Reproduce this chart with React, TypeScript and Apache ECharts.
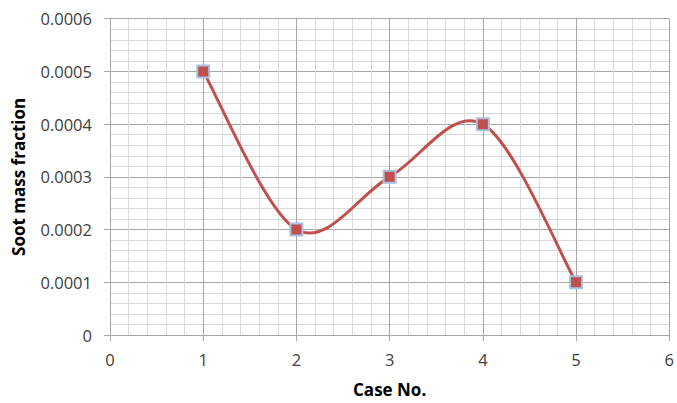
import React, { useEffect, useRef } from "react";
import * as echarts from "echarts";

// Soot mass fraction for each simulated case
const caseNumbers = [1, 2, 3, 4, 5];
const sootMassFraction = [0.0005, 0.0002, 0.0003, 0.0004, 0.0001];

const xTicks = { min: 0, max: 6, interval: 1 };
const yTicks = { min: 0, max: 0.0006, interval: 0.0001 };

const FONT = "'Open Sans', 'Liberation Sans', sans-serif";
const MAJOR = "#a6a6a6";
const MINOR = "#d9d9d9";
const LINE_RED = "#c0504d";

// Builds a Catmull-Rom style cubic Bezier path through the pixel points
function smoothPath(pts: number[][]): string {
  const n = pts.length;
  if (n === 0) return "";
  const p = (i: number) => pts[Math.max(0, Math.min(n - 1, i))];
  let d = `M${pts[0][0]},${pts[0][1]}`;
  for (let i = 0; i < n - 1; i++) {
    const p0 = p(i - 1);
    const p1 = p(i);
    const p2 = p(i + 1);
    const p3 = p(i + 2);
    const c1x = p1[0] + (p2[0] - p0[0]) / 6;
    const c1y = p1[1] + (p2[1] - p0[1]) / 6;
    const c2x = p2[0] - (p3[0] - p1[0]) / 6;
    const c2y = p2[1] - (p3[1] - p1[1]) / 6;
    d += ` C${c1x},${c1y} ${c2x},${c2y} ${p2[0]},${p2[1]}`;
  }
  return d;
}

export default function App() {
  const ref = useRef<HTMLDivElement>(null);

  useEffect(() => {
    if (!ref.current) return;
    const chart = echarts.init(ref.current, undefined, { renderer: "svg" });
    const points = caseNumbers.map((c, i) => [c, sootMassFraction[i]]);

    const axisCommon = {
      type: "value",
      nameLocation: "middle",
      nameTextStyle: { fontFamily: FONT, fontSize: 17, fontWeight: "bold", color: "#000" },
      axisLine: { show: true, lineStyle: { color: MAJOR, width: 1 } },
      axisTick: { show: true, length: 6, lineStyle: { color: MAJOR } },
      splitLine: { show: true, lineStyle: { color: MAJOR, width: 1 } },
      minorTick: { show: false, splitNumber: 5 },
      minorSplitLine: { show: true, lineStyle: { color: MINOR, width: 1 } },
    };

    chart.setOption({
      animation: false,
      backgroundColor: "#ffffff",
      grid: { left: 110, right: 6, top: 18.7, bottom: 67.5, containLabel: false },
      xAxis: {
        ...axisCommon,
        min: xTicks.min,
        max: xTicks.max,
        interval: xTicks.interval,
        name: "Case No.",
        nameGap: 46,
        axisLabel: { fontFamily: FONT, fontSize: 16.5, color: "#404040", margin: 16 },
      },
      yAxis: {
        ...axisCommon,
        min: yTicks.min,
        max: yTicks.max,
        interval: yTicks.interval,
        name: "Soot mass fraction",
        nameGap: 83,
        axisLabel: {
          fontFamily: FONT,
          fontSize: 16.5,
          color: "#404040",
          margin: 18,
          formatter: (v: number) => (v === 0 ? "0" : v.toFixed(4)),
        },
      },
      series: [
        {
          // smoothed curve through all cases, drawn once from the axis scales
          type: "custom",
          data: points,
          z: 2,
          renderItem: (params: any, api: any) => {
            if (params.dataIndexInside !== 0) return null;
            const px: number[][] = [];
            for (let i = 0; i < points.length; i++) {
              px.push(api.coord([api.value(0, i), api.value(1, i)]));
            }
            return {
              type: "path",
              shape: { pathData: smoothPath(px) },
              style: { fill: "none", stroke: LINE_RED, lineWidth: 3 },
            };
          },
        },
        {
          type: "scatter",
          data: points,
          z: 3,
          symbol: "rect",
          symbolSize: 12,
          itemStyle: { color: LINE_RED, borderColor: "#a9c1e2", borderWidth: 2, opacity: 1 },
        },
      ],
    });

    return () => chart.dispose();
  }, []);

  return (
    <div
      ref={ref}
      style={{ position: "fixed", left: 0, top: 0, width: 677, height: 403 }}
    />
  );
}
